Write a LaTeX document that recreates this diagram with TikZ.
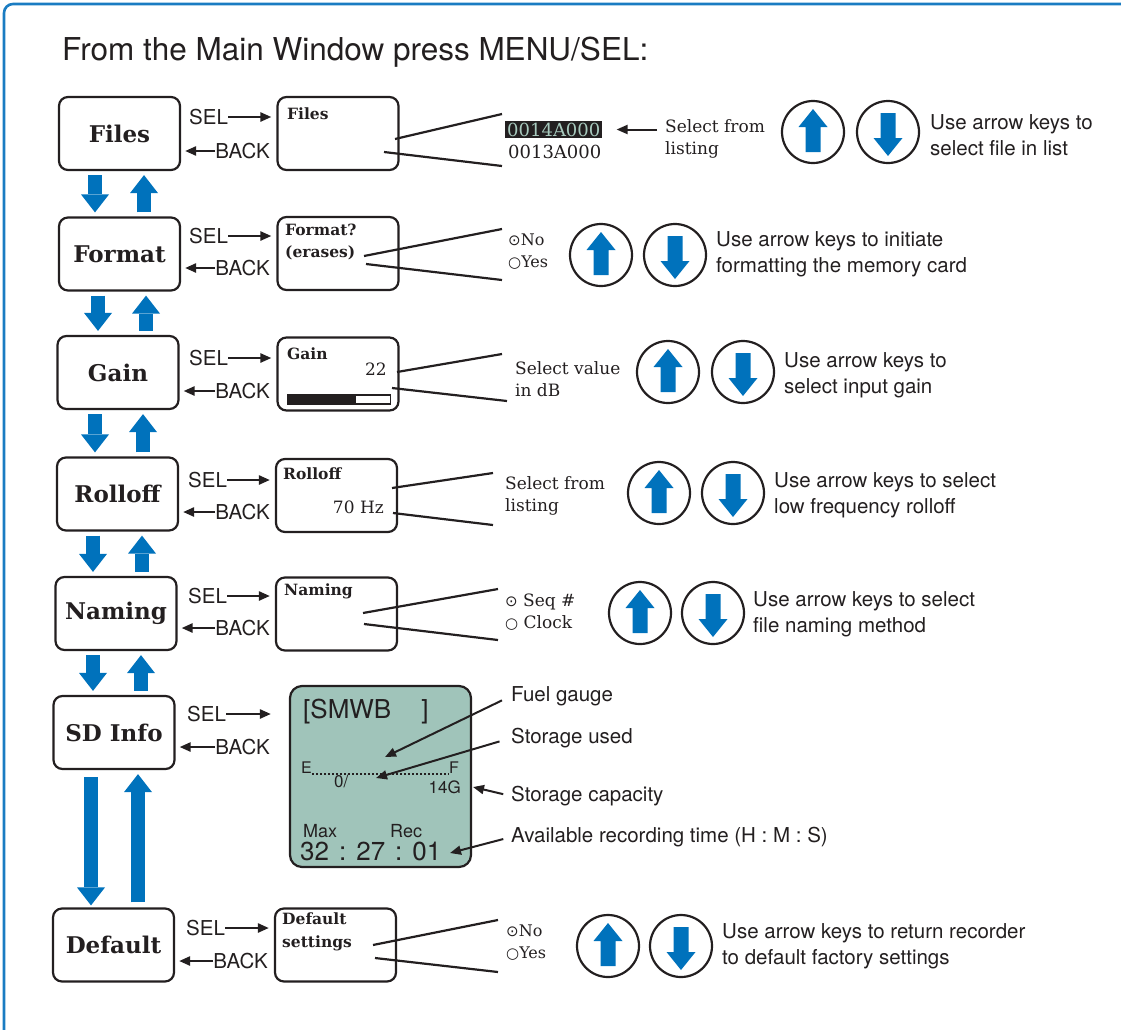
\documentclass[tikz,border=0pt]{standalone}
\usepackage{fontspec}
\setmainfont{TeX Gyre Heros}
\newfontfamily\schfont{DejaVu Serif}
\newfontfamily\symfont{DejaVu Sans}
\usepackage{tikz}
\usetikzlibrary{arrows.meta}
\definecolor{ink}{HTML}{231F20}
\definecolor{keyblue}{HTML}{0072BC}
\definecolor{frameblue}{HTML}{1A7CC2}
\definecolor{lcdgreen}{HTML}{A0C4BA}
\definecolor{hitext}{HTML}{A8CABE}
\newcommand\fs[2]{\fontsize{#1}{#2}\selectfont}
\newcommand\radioon{{\symfont\fs{15}{15}⊙}}
\newcommand\radiooff{{\symfont\fs{15}{15}○}}
\newcommand\keyup[1]{\fill[keyblue,shift={(#1)}] (0,-23) -- (14.5,-5) -- (7.5,-5) -- (7.5,20) -- (-7.5,20) -- (-7.5,-5) -- (-14.5,-5) -- cycle;}
\newcommand\keydown[1]{\fill[keyblue,shift={(#1)}] (0,24) -- (14.5,6) -- (7.5,6) -- (7.5,-19) -- (-7.5,-19) -- (-7.5,6) -- (-14.5,6) -- cycle;}
\tikzstyle{menubox}=[draw=ink,line width=2.2pt,rounded corners=9pt,minimum width=121pt,minimum height=73pt,inner sep=0pt,font=\schfont\bfseries\fs{23}{27}]
\tikzstyle{scrbox}=[draw=ink,line width=2.2pt,rounded corners=9pt,minimum width=121pt,minimum height=73pt,inner sep=0pt]
\tikzstyle{scrtitle}=[anchor=west,inner sep=0pt,align=left,font=\schfont\bfseries\fs{15.5}{22.5}]
\tikzstyle{seriftxt}=[anchor=west,inner sep=0pt,align=left,font=\schfont\fs{17}{22.5}]
\tikzstyle{opttxt}=[anchor=west,inner sep=0pt,align=left,font=\schfont\fs{16}{22}]
\tikzstyle{sanstxt}=[anchor=west,inner sep=0pt,align=left,font=\fs{20.5}{26}]
\tikzstyle{lcdtxt}=[anchor=west,inner sep=0pt]
\tikzstyle{keyc}=[draw=ink,circle,line width=2.2pt,minimum size=62pt,inner sep=0pt]
\tikzstyle{rw}=[draw=ink,line width=2.4pt,-{Triangle[length=11pt,width=9pt]}]
\tikzstyle{callout}=[draw=ink,line width=2.2pt]
\tikzstyle{nav}=[draw=keyblue,line width=14pt,-{Triangle[length=18pt,width=28pt,line width=0pt]},shorten <=4pt,shorten >=4pt]

\begin{document}
\begin{tikzpicture}[x=1pt,y=-1pt,every node/.style={text=ink}]
	\useasboundingbox (0,0) rectangle (1121,1029);
	\clip (0,0) rectangle (1121,1029);
	\draw[frameblue,line width=2.6pt,rounded corners=9pt] (4,1060) -- (4,4) -- (1150,4);
	\node[sanstxt,font=\fs{31.5}{36}] (title) at (62,52) {From the Main Window press MENU/SEL:};

	% menu entries
	\node[menubox] (files) at (119.5,133.5) {Files};
	\node[menubox] (format) at (119.5,254) {Format};
	\node[menubox] (gain) at (118,372.5) {Gain};
	\node[menubox] (rolloff) at (117.5,494) {Rolloff};
	\node[menubox] (naming) at (116,613.5) {Naming};
	\node[menubox] (sdinfo) at (114,732.5) {SD Info};
	\node[menubox] (dflt) at (113.5,945) {Default};

	\draw[nav] ([xshift=-24.5pt]files.south) -- ([xshift=-24.5pt]files.south |- format.north);
	\draw[nav] ([xshift=24.5pt]files.south |- format.north) -- ([xshift=24.5pt]files.south);
	\draw[nav] ([xshift=-21.5pt]format.south) -- ([xshift=-21.5pt]format.south |- gain.north);
	\draw[nav] ([xshift=26.5pt]format.south |- gain.north) -- ([xshift=26.5pt]format.south);
	\draw[nav] ([xshift=-23pt]gain.south) -- ([xshift=-23pt]gain.south |- rolloff.north);
	\draw[nav] ([xshift=25pt]gain.south |- rolloff.north) -- ([xshift=25pt]gain.south);
	\draw[nav] ([xshift=-24.5pt]rolloff.south) -- ([xshift=-24.5pt]rolloff.south |- naming.north);
	\draw[nav] ([xshift=24.5pt]rolloff.south |- naming.north) -- ([xshift=24.5pt]rolloff.south);
	\draw[nav] ([xshift=-23pt]naming.south) -- ([xshift=-23pt]naming.south |- sdinfo.north);
	\draw[nav] ([xshift=25pt]naming.south |- sdinfo.north) -- ([xshift=25pt]naming.south);
	\draw[nav,shorten <=7pt,shorten >=2pt] ([xshift=-23pt]sdinfo.south) -- ([xshift=-23pt]sdinfo.south |- dflt.north);
	\draw[nav,shorten <=5pt] ([xshift=24pt]sdinfo.south |- dflt.north) -- ([xshift=24pt]sdinfo.south);

	% Files
	\node[scrbox] (filesS) at (338,133.5) {};
	\node[scrtitle] (filesT) at (287,114) {Files};
	\node[sanstxt] (filesSel) at (189,117) {SEL};
	\node[sanstxt,anchor=east] (filesBack) at (270,151) {BACK};
	\draw[rw,shorten >=5pt] (filesSel) -- (filesSel -| filesS.west);
	\draw[rw,shorten >=4pt] (filesBack) -- (filesBack -| files.east);
	\coordinate (filesA1) at (395,139);
	\coordinate (filesA2) at (502,114);
	\coordinate (filesB1) at (384,152);
	\coordinate (filesB2) at (502,166);
	\draw[callout] (filesA1) -- (filesA2);
	\draw[callout] (filesB1) -- (filesB2);
	\node[seriftxt,font=\schfont\fs{18}{18},fill=ink,text=hitext,inner sep=2pt] (filesHi) at (505,129.5) {0014A000};
	\node[seriftxt,font=\schfont\fs{18}{18}] (filesLo) at (508,152) {0013A000};
	\node[seriftxt] (filesPick) at (665,139) {Select from\\listing};
	\draw[rw,line width=2pt,shorten <=8pt,shorten >=14pt] (filesPick.west |- filesHi.east) -- (filesHi.east);
	\node[keyc] (filesUp) at (813,132) {};
	\node[keyc] (filesDown) at (888,132) {};
	\keyup{filesUp}
	\keydown{filesDown}
	\node[sanstxt] (filesUse) at (930,135) {Use arrow keys to\\select file in list};

	% Format
	\node[scrbox] (formatS) at (338,253.5) {};
	\node[scrtitle] (formatT) at (285,242) {Format?\\(erases)};
	\node[sanstxt] (formatSel) at (189,236) {SEL};
	\node[sanstxt,anchor=east] (formatBack) at (270,268) {BACK};
	\draw[rw,shorten >=5pt] (formatSel) -- (formatSel -| formatS.west);
	\draw[rw,shorten >=4pt] (formatBack) -- (formatBack -| format.east);
	\coordinate (formatA1) at (364,256);
	\coordinate (formatA2) at (502,229);
	\coordinate (formatB1) at (366,264);
	\coordinate (formatB2) at (502,280);
	\draw[callout] (formatA1) -- (formatA2);
	\draw[callout] (formatB1) -- (formatB2);
	\node[opttxt] (formatOpt) at (508,252) {\radioon No\\\radiooff Yes};
	\node[keyc] (formatUp) at (601,255) {};
	\node[keyc] (formatDown) at (675,255) {};
	\keyup{formatUp}
	\keydown{formatDown}
	\node[sanstxt] (formatUse) at (716,254) {Use arrow keys to initiate\\formatting the memory card};

	% Gain
	\node[scrbox] (gainS) at (338,374) {};
	\node[scrtitle] (gainT) at (287,354) {Gain};
	\node[seriftxt,anchor=east] (gainVal) at (387,369) {22};
	\node[draw=ink,line width=1.3pt,minimum width=103pt,minimum height=9pt,inner sep=0pt,anchor=west] (gainBar) at (287,399.5) {};
	\fill[ink] (gainBar.north west) rectangle ([xshift=69pt]gainBar.south west);
	\node[sanstxt] (gainSel) at (189,358) {SEL};
	\node[sanstxt,anchor=east] (gainBack) at (270,391) {BACK};
	\draw[rw,shorten >=5pt] (gainSel) -- (gainSel -| gainS.west);
	\draw[rw,shorten >=4pt] (gainBack) -- (gainBack -| gain.east);
	\coordinate (gainA1) at (397,372);
	\coordinate (gainA2) at (502,354);
	\coordinate (gainB1) at (392,388);
	\coordinate (gainB2) at (507,401);
	\draw[callout] (gainA1) -- (gainA2);
	\draw[callout] (gainB1) -- (gainB2);
	\node[seriftxt] (gainPick) at (515,379) {Select value\\in dB};
	\node[keyc] (gainUp) at (668,372) {};
	\node[keyc] (gainDown) at (743,372) {};
	\keyup{gainUp}
	\keydown{gainDown}
	\node[sanstxt] (gainUse) at (784,375) {Use arrow keys to\\select input gain};

	% Rolloff
	\node[scrbox] (rolloffS) at (336.5,495.5) {};
	\node[scrtitle] (rolloffT) at (283,474) {Rolloff};
	\node[seriftxt,anchor=east] (rolloffVal) at (384,507) {70 Hz};
	\node[sanstxt] (rolloffSel) at (188,480) {SEL};
	\node[sanstxt,anchor=east] (rolloffBack) at (270,512) {BACK};
	\draw[rw,shorten >=5pt] (rolloffSel) -- (rolloffSel -| rolloffS.west);
	\draw[rw,shorten >=4pt] (rolloffBack) -- (rolloffBack -| rolloff.east);
	\coordinate (rolloffA1) at (392,488);
	\coordinate (rolloffA2) at (493,473);
	\coordinate (rolloffB1) at (393,513);
	\coordinate (rolloffB2) at (493,525);
	\draw[callout] (rolloffA1) -- (rolloffA2);
	\draw[callout] (rolloffB1) -- (rolloffB2);
	\node[seriftxt] (rolloffPick) at (505,496) {Select from\\listing};
	\node[keyc] (rolloffUp) at (659,493) {};
	\node[keyc] (rolloffDown) at (733,493) {};
	\keyup{rolloffUp}
	\keydown{rolloffDown}
	\node[sanstxt] (rolloffUse) at (774,495) {Use arrow keys to select\\low frequency rolloff};

	% Naming
	\node[scrbox] (namingS) at (336.5,614) {};
	\node[scrtitle] (namingT) at (284,591) {Naming};
	\node[sanstxt] (namingSel) at (188,596) {SEL};
	\node[sanstxt,anchor=east] (namingBack) at (270,628) {BACK};
	\draw[rw,shorten >=5pt] (namingSel) -- (namingSel -| namingS.west);
	\draw[rw,shorten >=4pt] (namingBack) -- (namingBack -| naming.east);
	\coordinate (namingA1) at (363,613);
	\coordinate (namingA2) at (498,589);
	\coordinate (namingB1) at (364,624);
	\coordinate (namingB2) at (498,640);
	\draw[callout] (namingA1) -- (namingA2);
	\draw[callout] (namingB1) -- (namingB2);
	\node[opttxt,font=\schfont\fs{17}{22}] (namingOpt) at (505,612) {\radioon\ Seq \#\\\radiooff\ Clock};
	\node[keyc] (namingUp) at (640,613) {};
	\node[keyc] (namingDown) at (713,613) {};
	\keyup{namingUp}
	\keydown{namingDown}
	\node[sanstxt] (namingUse) at (753,614) {Use arrow keys to select\\file naming method};

	% SD Info
	\node[draw=ink,line width=2.2pt,fill=lcdgreen,rounded corners=12pt,minimum width=181pt,minimum height=181pt] (lcd) at (380.5,776.5) {};
	\node[sanstxt] (sdinfoSel) at (187,714) {SEL};
	\node[sanstxt,anchor=east] (sdinfoBack) at (270,747) {BACK};
	\draw[rw,shorten >=18pt] (sdinfoSel) -- (sdinfoSel -| lcd.west);
	\draw[rw,shorten >=4pt] (sdinfoBack) -- (sdinfoBack -| sdinfo.east);
	\node[lcdtxt,font=\fs{26}{26}] (lcdName) at (303,712) {[SMWB\hspace{30pt}]};
	\node[lcdtxt,font=\fs{16}{16}] (lcdE) at (301,768) {E};
	\node[lcdtxt,font=\fs{16}{16}] (lcdF) at (449,768) {F};
	\draw[ink,line width=1.6pt,dash pattern=on 1.6pt off 2.4pt] (lcdE.south east) -- (lcdF.south west);
	\node[lcdtxt,font=\fs{17}{17}] (lcdUsed) at (334,781) {0/};
	\node[lcdtxt,anchor=east,font=\fs{17}{17}] (lcdCap) at (461,787) {14G};
	\node[lcdtxt,font=\fs{18}{18}] (lcdMax) at (303,831) {Max};
	\node[lcdtxt,font=\fs{18}{18}] (lcdRec) at (390,831) {Rec};
	\node[lcdtxt,font=\fs{26}{26}] (lcdTime) at (300,851) {32\hspace{10pt}:\hspace{10pt}27\hspace{10pt}:\hspace{10pt}01};
	\node[sanstxt] (fuel) at (511,696) {Fuel gauge};
	\node[sanstxt] (used) at (511,738) {Storage used};
	\node[sanstxt] (capacity) at (511,796) {Storage capacity};
	\node[sanstxt] (rectime) at (511,837) {Available recording time (H : M : S)};
	\coordinate (gaugePt) at (385,757);
	\coordinate (usedPt) at (376,778);
	\coordinate (capPt) at (473,787);
	\coordinate (timePt) at (450,853);
	\draw[rw,line width=2pt,shorten <=10pt] (fuel.west) -- (gaugePt);
	\draw[rw,line width=2pt,shorten <=12pt] (used.west) -- (usedPt);
	\draw[rw,line width=2pt,shorten <=8pt] (capacity.west) -- (capPt);
	\draw[rw,line width=2pt,shorten <=8pt] (rectime.west) -- (timePt);

	% Default
	\node[scrbox] (dfltS) at (335.5,945) {};
	\node[scrtitle] (dfltT) at (282,932) {Default\\settings};
	\node[sanstxt] (dfltSel) at (186,928) {SEL};
	\node[sanstxt,anchor=east] (dfltBack) at (268,961) {BACK};
	\draw[rw,shorten >=5pt] (dfltSel) -- (dfltSel -| dfltS.west);
	\draw[rw,shorten >=4pt] (dfltBack) -- (dfltBack -| dflt.east);
	\coordinate (dfltA1) at (373,945);
	\coordinate (dfltA2) at (498,920);
	\coordinate (dfltB1) at (375,958);
	\coordinate (dfltB2) at (498,972);
	\draw[callout] (dfltA1) -- (dfltA2);
	\draw[callout] (dfltB1) -- (dfltB2);
	\node[opttxt] (dfltOpt) at (506,943) {\radioon No\\\radiooff Yes};
	\node[keyc] (dfltUp) at (608,946) {};
	\node[keyc] (dfltDown) at (681,946) {};
	\keyup{dfltUp}
	\keydown{dfltDown}
	\node[sanstxt] (dfltUse) at (722,946) {Use arrow keys to return recorder\\to default factory settings};
\end{tikzpicture}
\end{document}
